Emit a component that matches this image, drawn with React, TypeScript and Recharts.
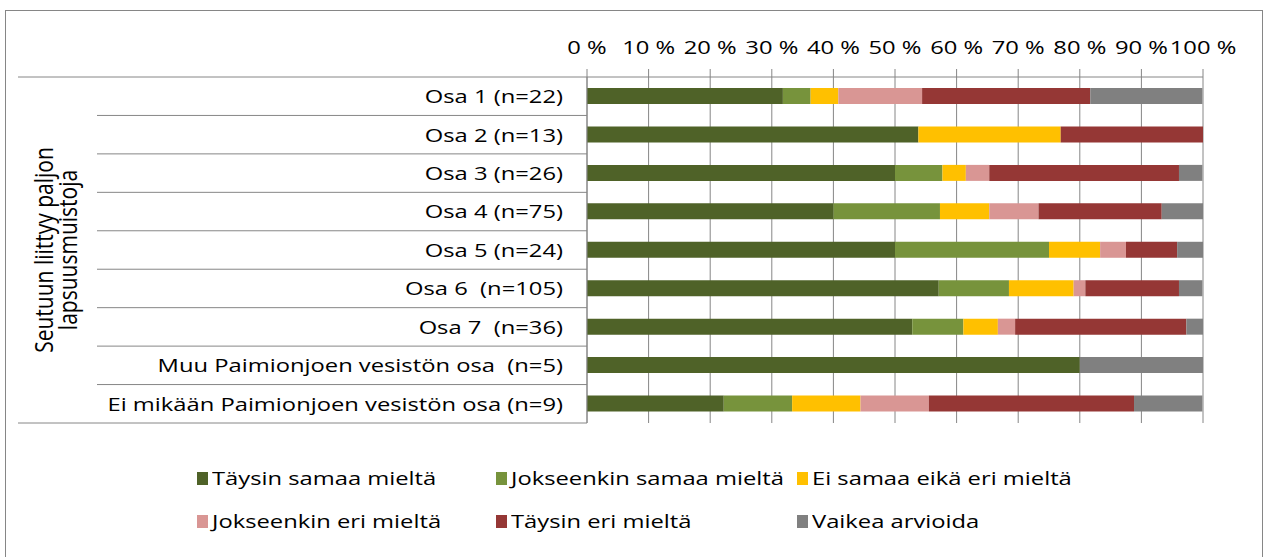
import React from 'react';
import { BarChart, Bar, XAxis, YAxis, CartesianGrid } from 'recharts';

const categories = [
  'Osa 1 (n=22)',
  'Osa 2 (n=13)',
  'Osa 3 (n=26)',
  'Osa 4 (n=75)',
  'Osa 5 (n=24)',
  'Osa 6  (n=105)',
  'Osa 7  (n=36)',
  'Muu Paimionjoen vesistön osa  (n=5)',
  'Ei mikään Paimionjoen vesistön osa (n=9)',
];

const groupLabel = ['Seutuun liittyy paljon', 'lapsuusmuistoja'];

const seriesNames = [
  'Täysin samaa mieltä',
  'Jokseenkin samaa mieltä',
  'Ei samaa eikä eri mieltä',
  'Jokseenkin eri mieltä',
  'Täysin eri mieltä',
  'Vaikea arvioida',
];
const seriesColors = ['#4F6228', '#77933C', '#FFC000', '#D99694', '#953735', '#808080'];

// percentages per row
const taysinSamaa = [31.8, 53.8, 50.0, 40.0, 50.0, 57.1, 52.8, 80.0, 22.2];
const jokseenkinSamaa = [4.5, 0, 7.7, 17.3, 25.0, 11.4, 8.3, 0, 11.1];
const eiSamaaEikaEri = [4.5, 23.1, 3.8, 8.0, 8.3, 10.5, 5.6, 0, 11.1];
const jokseenkinEri = [13.6, 0, 3.8, 8.0, 4.2, 1.9, 2.8, 0, 11.1];
const taysinEri = [27.3, 23.1, 30.8, 20.0, 8.3, 15.2, 27.8, 0, 33.3];
const vaikeaArvioida = [18.2, 0, 3.8, 6.7, 4.2, 3.8, 2.7, 20.0, 11.1];

const xTicks = [0, 10, 20, 30, 40, 50, 60, 70, 80, 90, 100];

const seriesValues = [taysinSamaa, jokseenkinSamaa, eiSamaaEikaEri, jokseenkinEri, taysinEri, vaikeaArvioida];
const data = categories.map((name, i) => {
  const row: Record<string, string | number> = { name };
  seriesValues.forEach((vals, s) => {
    row['s' + s] = vals[i];
  });
  return row;
});

const W = 1266;
const H = 557;
const PLOT_LEFT = 587;
const PLOT_RIGHT = 1203;
const PLOT_TOP = 77;
const PLOT_BOTTOM = 423;
const BAND = (PLOT_BOTTOM - PLOT_TOP) / categories.length;
const LINE = '#868686';
const FONT = '"Open Sans", sans-serif';
const SX = 1.25; // the reference text is stretched sideways

function CategoryTick(props: any) {
  const { y, payload, index } = props;
  const i = payload?.index ?? index;
  const last = i === categories.length - 1;
  const midY = (PLOT_TOP + PLOT_BOTTOM) / 2;
  return (
    <g>
      {i === 0 && (
        <>
          <line x1={18} x2={PLOT_LEFT} y1={y - BAND / 2} y2={y - BAND / 2} stroke={LINE} />
          {groupLabel.map((t, k) => (
            <text
              key={k}
              transform={`translate(${44 + k * 24}, ${midY}) scale(${SX}, 1) rotate(-90)`}
              textAnchor="middle"
              dy="0.35em"
              fontFamily={FONT}
              fontSize={21}
              fill="#000"
            >
              {t}
            </text>
          ))}
        </>
      )}
      <line x1={last ? 18 : 97} x2={PLOT_LEFT} y1={y + BAND / 2} y2={y + BAND / 2} stroke={LINE} />
      <text
        transform={`translate(563, ${y}) scale(${SX}, 1)`}
        textAnchor="end"
        dy="0.36em"
        fontFamily={FONT}
        fontSize={19}
        fill="#000"
        style={{ whiteSpace: 'pre' }}
      >
        {payload.value}
      </text>
    </g>
  );
}

function PercentTick(props: any) {
  const { x, payload } = props;
  return (
    <text
      transform={`translate(${x}, 54) scale(${SX}, 1)`}
      textAnchor="middle"
      fontFamily={FONT}
      fontSize={19}
      fill="#000"
    >
      {`${payload.value} %`}
    </text>
  );
}

function LegendBlock() {
  const colX = [197, 496, 797];
  return (
    <>
      {seriesNames.map((name, i) => {
        const col = i % 3;
        const row = Math.floor(i / 3);
        return (
          <div
            key={name}
            style={{
              position: 'absolute',
              left: colX[col],
              top: 466 + row * 43,
              height: 24,
              display: 'flex',
              alignItems: 'center',
              whiteSpace: 'nowrap',
            }}
          >
            <span style={{ width: 11, height: 13, background: seriesColors[i], display: 'inline-block' }} />
            <span
              style={{
                fontFamily: FONT,
                fontSize: 19,
                color: '#000',
                marginLeft: 4,
                display: 'inline-block',
                transform: `scaleX(${SX})`,
                transformOrigin: 'left center',
              }}
            >
              {name}
            </span>
          </div>
        );
      })}
    </>
  );
}

export default function App() {
  return (
    <div style={{ position: 'relative', width: W, height: H, overflow: 'hidden', background: '#fff' }}>
      <style>{'body{margin:0}'}</style>
      <div
        style={{
          position: 'absolute',
          left: 5,
          top: 10,
          width: 1258,
          height: 560,
          border: `1px solid ${LINE}`,
          boxSizing: 'border-box',
        }}
      />
      <div style={{ position: 'absolute', left: 0, top: 0 }}>
        <BarChart
          width={W}
          height={H}
          data={data}
          layout="vertical"
          barSize={16}
          margin={{ top: 0, right: W - PLOT_RIGHT, bottom: H - PLOT_BOTTOM, left: 0 }}
        >
          <CartesianGrid horizontal={false} vertical stroke={LINE} />
          <XAxis
            type="number"
            orientation="top"
            domain={[0, 100]}
            ticks={xTicks}
            interval={0}
            allowDataOverflow
            height={PLOT_TOP}
            tickSize={8}
            tickLine={{ stroke: LINE }}
            axisLine={{ stroke: LINE }}
            tick={<PercentTick />}
          />
          <YAxis
            type="category"
            dataKey="name"
            width={PLOT_LEFT}
            interval={0}
            tickLine={false}
            axisLine={{ stroke: LINE }}
            tick={<CategoryTick />}
          />
          {seriesNames.map((name, s) => (
            <Bar
              key={name}
              dataKey={'s' + s}
              name={name}
              stackId="a"
              fill={seriesColors[s]}
              isAnimationActive={false}
            />
          ))}
        </BarChart>
      </div>
      <LegendBlock />
    </div>
  );
}
